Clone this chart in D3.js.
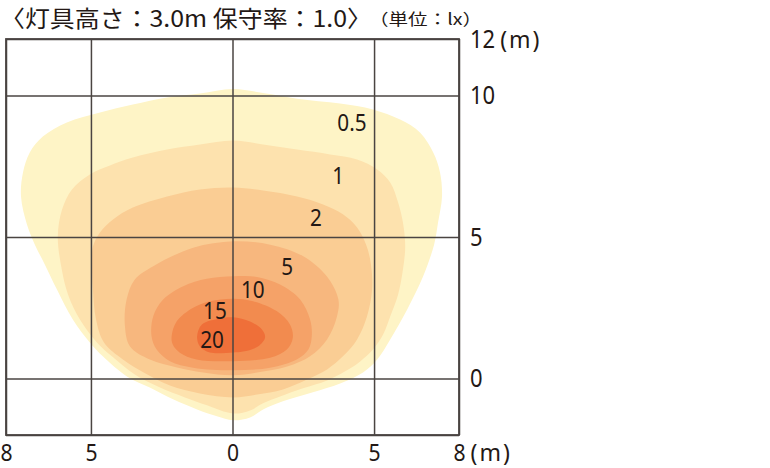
<!DOCTYPE html>
<html><head><meta charset="utf-8">
<script src="https://cdn.jsdelivr.net/npm/d3@7"></script>
<style>
html,body{margin:0;padding:0;background:#fff;}
svg{display:block;}
</style></head>
<body>
<svg id="c" width="770" height="468"></svg>
<script>
// ---- data (metres / lux) ----
const titleText = "〈灯具高さ：3.0m 保守率：1.0〉";
const unitText = "（単位：lx）";
const axisUnit = "(m)";
const xTicks = [-8, -5, 0, 5, 8];
const yTicks = [12, 10, 5, 0];
const gridY = [12, 10, 5, 0, -2];
const levels = [0.5, 1, 2, 5, 10, 15, 20];
const levelColors = ["#fef4c6", "#fde2ae", "#facd94", "#f7b77e", "#f5a268", "#f28b4f", "#ef6f39"];

const iso05 = [[0.02,10.23],[1.08,10.09],[2.28,9.89],[3.80,9.72],[4.96,9.51],[5.92,9.15],[6.63,8.69],[7.09,7.99],[7.33,7.28],[7.40,6.43],[7.26,5.51],[7.12,4.73],[6.73,3.60],[6.17,2.44],[5.57,1.38],[5.11,0.67],[4.61,0.21],[3.80,-0.18],[2.84,-0.49],[1.78,-0.81],[1.08,-1.10],[0.62,-1.38],[0.02,-1.48],[-0.55,-1.34],[-1.25,-1.10],[-2.10,-0.74],[-2.92,-0.32],[-3.73,0.07],[-4.58,0.78],[-5.04,1.27],[-5.64,2.08],[-6.20,3.14],[-6.63,4.03],[-6.98,4.73],[-7.26,5.44],[-7.47,6.43],[-7.40,7.28],[-7.16,7.99],[-6.70,8.55],[-5.85,9.05],[-4.68,9.40],[-3.52,9.68],[-2.31,9.93],[-1.15,10.07]];
const iso1 = [[0.02,8.41],[1.08,8.27],[2.28,8.09],[3.45,7.92],[4.40,7.74],[5.11,7.39],[5.57,6.93],[5.85,6.22],[6.02,5.51],[6.10,4.66],[6.02,3.85],[5.85,2.97],[5.57,2.19],[5.32,1.55],[4.96,1.02],[4.51,0.60],[3.98,0.25],[3.34,-0.07],[2.49,-0.35],[1.68,-0.64],[1.08,-0.88],[0.62,-1.13],[0.02,-1.24],[-0.90,-0.95],[-1.68,-0.67],[-2.56,-0.32],[-3.45,0.14],[-4.26,0.78],[-4.79,1.27],[-5.39,2.08],[-5.81,2.97],[-6.03,3.85],[-6.17,5.02],[-6.02,5.97],[-5.67,6.68],[-5.04,7.21],[-4.33,7.53],[-3.52,7.81],[-2.31,8.09],[-1.15,8.27]];
const iso2 = [[0.02,6.75],[1.08,6.64],[2.28,6.43],[3.20,6.15],[3.90,5.80],[4.40,5.34],[4.72,4.73],[4.89,4.03],[4.93,3.14],[4.75,2.19],[4.40,1.38],[3.90,0.78],[3.34,0.32],[2.63,-0.04],[1.78,-0.39],[0.87,-0.57],[0.02,-0.67],[-1.15,-0.53],[-2.21,-0.25],[-3.09,0.18],[-3.87,0.67],[-4.54,1.27],[-4.82,2.08],[-4.93,3.14],[-4.96,4.10],[-4.93,4.66],[-4.68,5.16],[-4.22,5.62],[-3.52,6.04],[-2.31,6.43],[-1.15,6.68]];
const iso5 = [[0.03,4.85],[1.33,4.73],[2.50,4.32],[3.33,3.61],[3.74,2.79],[3.69,2.19],[3.34,1.38],[2.74,0.78],[1.93,0.42],[0.87,0.21],[0.02,0.11],[-1.04,0.21],[-1.96,0.39],[-2.92,0.67],[-3.62,1.13],[-3.80,1.85],[-3.74,2.79],[-3.45,3.50],[-2.80,3.97],[-1.39,4.62]];
const iso10 = [[0.03,3.61],[0.86,3.59],[1.68,3.32],[2.39,2.79],[2.74,2.08],[2.80,1.49],[2.68,1.02],[2.27,0.67],[1.33,0.38],[0.03,0.29],[-1.39,0.38],[-2.21,0.61],[-2.68,1.02],[-2.86,1.49],[-2.80,2.20],[-2.45,2.79],[-1.74,3.26],[-0.91,3.52]];
const iso15 = [[0.03,2.82],[0.73,2.73],[1.56,2.38],[2.03,1.91],[2.13,1.44],[1.92,1.02],[1.33,0.73],[0.03,0.61],[-1.27,0.67],[-1.86,0.91],[-2.11,1.20],[-2.15,1.49],[-1.97,2.02],[-1.39,2.50],[-0.80,2.73]];
const iso20 = [[0.02,2.16],[0.62,2.01],[1.04,1.73],[1.15,1.45],[0.90,1.13],[0.37,0.95],[0.02,0.92],[-0.80,0.92],[-1.15,1.13],[-1.25,1.48],[-1.08,1.91],[-0.44,2.12]];
const isoShapes = [iso05, iso1, iso2, iso5, iso10, iso15, iso20];
const labelPos = [[4.22,9.05],[3.73,7.17],[2.95,5.69],[1.93,3.96],[0.72,3.14],[-0.62,2.40],[-0.72,1.38]];

// ---- drawing ----
const svg = d3.select("#c");
const x = d3.scaleLinear().domain([-8, 8]).range([6, 459]);
const y = d3.scaleLinear().domain([-2, 12]).range([435, 39]);
const ink = "#231815";
const gridCol = "#4a4442";
const numFont = "'Noto Sans', sans-serif";
const jpFont = "'Noto Sans CJK JP', sans-serif";
const K = 0.88;

const line = d3.line().x(d => x(d[0])).y(d => y(d[1])).curve(d3.curveCatmullRomClosed.alpha(0.5));
svg.append("g").selectAll("path").data(isoShapes).join("path")
  .attr("d", d => line(d))
  .attr("fill", (d, i) => levelColors[i])
  .attr("stroke", "none");

// grid via axes
const plotH = y(-2) - y(12), plotW = x(8) - x(-8);
const gx = svg.append("g").attr("transform", `translate(0,${y(-2)})`)
  .call(d3.axisBottom(x).tickValues(xTicks).tickSize(-plotH).tickPadding(9).tickFormat(d => Math.abs(d)));
const gy = svg.append("g").attr("transform", `translate(${x(8)},0)`)
  .call(d3.axisRight(y).tickValues(gridY).tickSize(-plotW).tickPadding(11).tickFormat(d => d === -2 ? "" : d));

function styleTicks(g, size, unitFor, isBottom) {
  g.select(".domain").remove();
  g.selectAll(".tick line").attr("stroke", gridCol).attr("stroke-width", 1.5);
  g.selectAll(".tick text").attr("fill", ink)
    .style("font-family", numFont).style("font-size", size + "px")
    .each(function (d) {
      const t = d3.select(this);
      const label = t.text();
      if (!label) return;
      const w = this.getComputedTextLength() * K;
      t.text(null);
      t.append("tspan").text(label).attr("textLength", w).attr("lengthAdjust", "spacingAndGlyphs");
      if (d === unitFor) {
        if (isBottom) t.attr("text-anchor", "start").attr("x", -w / 2);
        t.append("tspan").attr("dx", 5).style("font-size", "23px")
          .style("letter-spacing", "2px").text(axisUnit);
      }
    });
}
styleTicks(gx, 24, 8, true);
styleTicks(gy, 25, 12, false);

svg.append("rect").attr("x", x(-8)).attr("y", y(12)).attr("width", plotW).attr("height", plotH)
  .attr("fill", "none").attr("stroke", gridCol).attr("stroke-width", 1.8);

// contour labels
svg.append("g").selectAll("text").data(levels).join("text")
  .attr("x", (d, i) => x(labelPos[i][0])).attr("y", (d, i) => y(labelPos[i][1]))
  .attr("dy", "0.36em").attr("text-anchor", "middle").attr("fill", ink)
  .style("font-family", numFont).style("font-size", "23px")
  .text(d => d)
  .each(function () {
    d3.select(this).attr("textLength", this.getComputedTextLength() * 0.9).attr("lengthAdjust", "spacingAndGlyphs");
  });

// title
svg.append("text").attr("x", 0).attr("y", 27).attr("fill", ink)
  .style("font-family", jpFont).style("font-size", "23px")
  .attr("textLength", 372).attr("lengthAdjust", "spacingAndGlyphs")
  .text(titleText);
svg.append("text").attr("x", 369).attr("y", 25).attr("fill", ink)
  .style("font-family", jpFont).style("font-size", "16px")
  .attr("textLength", 113).attr("lengthAdjust", "spacingAndGlyphs")
  .text(unitText);
</script>
</body></html>
